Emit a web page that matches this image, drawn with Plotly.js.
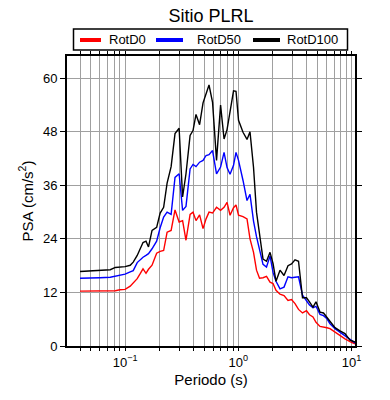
<!DOCTYPE html>
<html>
<head>
<meta charset="utf-8">
<script src="https://cdn.plot.ly/plotly-3.0.1.min.js"></script>
<style>html,body{margin:0;padding:0;background:#fff;}#chart{width:390px;height:400px;}</style>
</head>
<body>
<div id="chart"></div>
<script>
var periods = [0.040,0.049,0.060,0.074,0.082,0.090,0.100,0.111,0.118,0.128,0.136,0.144,0.153,0.161,0.173,0.190,0.204,0.219,0.235,0.255,0.276,0.300,0.322,0.345,0.375,0.398,0.423,0.455,0.488,0.519,0.551,0.592,0.642,0.697,0.748,0.795,0.845,0.907,0.954,1.004,1.100,1.193,1.268,1.362,1.447,1.539,1.652,1.774,1.905,2.025,2.151,2.333,2.532,2.746,2.949,3.166,3.400,3.687,4.000,4.250,4.564,4.850,5.262,5.649,6.066,6.447,7.137,7.902,8.744,9.681,10.72];

var rotD0 = [12.3,12.3,12.3,12.3,12.4,12.6,12.7,13.4,14.2,15.1,16.2,17.3,16.3,17.2,18.1,20.8,21.2,21.4,25.5,25.9,30.5,27.8,28.1,23.7,29.5,30.0,28.1,29.4,26.3,28.5,30.0,29.8,31.1,30.4,31.1,32.2,29.3,31.0,31.6,29.3,29.0,28.5,24.0,21.0,17.0,15.2,15.3,15.6,14.3,14.0,12.5,11.6,11.3,10.2,10.4,9.5,8.2,7.4,7.9,7.0,6.5,5.3,4.4,4.3,4.1,3.9,3.1,2.2,1.6,1.0,0.5];

var rotD50 = [15.2,15.2,15.3,15.4,15.6,15.8,16.1,16.6,16.9,18.7,19.4,19.9,20.3,20.7,21.8,23.5,26.5,28.9,30.0,29.5,37.8,38.6,30.4,31.3,39.7,40.7,40.2,41.2,41.6,42.7,42.9,43.8,38.6,40.1,43.4,40.0,38.5,40.5,43.4,41.6,37.1,32.6,34.0,28.0,24.5,21.4,18.3,17.7,20.2,16.5,14.5,12.8,13.2,15.5,15.3,15.4,15.5,11.4,10.0,9.2,8.6,8.9,7.1,6.8,6.1,5.0,3.9,3.1,2.2,1.3,0.7];

var rotD100 = [16.7,16.8,16.9,17.1,17.6,17.7,17.8,18.1,18.8,20.3,21.8,23.2,23.5,22.2,25.9,26.6,29.8,31.1,36.5,40.2,47.6,48.8,33.4,38.6,47.2,48.3,51.9,49.6,54.5,56.5,58.5,54.6,41.6,54.0,46.4,48.5,52.8,57.2,57.1,50.6,47.9,46.3,48.0,40.0,30.0,25.5,19.5,19.0,21.0,18.5,14.5,17.0,15.8,18.0,18.4,19.3,19.0,10.8,10.8,9.9,8.7,9.9,7.6,7.4,6.4,5.6,4.1,3.4,2.8,1.3,0.9];

var seriesNames = ['RotD0','RotD50','RotD100'];
var seriesColors = ['#ff0000','#0000ff','#000000'];
var seriesValues = [rotD0, rotD50, rotD100];

var xGridVals = [0.04,0.05,0.06,0.07,0.08,0.09,0.1,0.2,0.3,0.4,0.5,0.6,0.7,0.8,0.9,1,2,3,4,5,6,7,8,9,10];
var xTickLabels = {'0.1':'10<sup>−1</sup>','1':'10<sup>0</sup>','10':'10<sup>1</sup>'};
var xGridText = xGridVals.map(function(v){ return xTickLabels[String(v)] || ''; });
var yTickVals = [0,12,24,36,48,60];

var traces = [];
for (var i = 0; i < 3; i++) {
  traces.push({
    x: periods, y: seriesValues[i], type: 'scatter', mode: 'lines',
    line: {color: seriesColors[i], width: 1.4}, showlegend: false, name: seriesNames[i]
  });
}

// Legend drawn as shapes + annotations (paper coordinates)
var W = 288, H = 290, L = 67, T = 56;
function px(x){ return (x - L) / W; }
function py(y){ return (T + H - y) / H; }
var legendSwatchX = [[80, 101], [156, 183], [253, 280]];
var legendTextX = [107, 195, 285];
var shapes = [{
  type: 'rect', xref: 'paper', yref: 'paper',
  x0: px(73.5), x1: px(347.5), y0: py(50), y1: py(29),
  line: {color: '#000', width: 1.5}, fillcolor: '#fff', layer: 'above'
}];
var annotations = [];
for (var k = 0; k < 3; k++) {
  shapes.push({
    type: 'line', xref: 'paper', yref: 'paper',
    x0: px(legendSwatchX[k][0]), x1: px(legendSwatchX[k][1]), y0: py(40), y1: py(40),
    line: {color: seriesColors[k], width: 4}, layer: 'above'
  });
  annotations.push({
    xref: 'paper', yref: 'paper', x: px(legendTextX[k]), y: py(40),
    xanchor: 'left', yanchor: 'middle', showarrow: false,
    text: seriesNames[k], font: {size: 13, color: '#000'}
  });
}

var layout = {
  width: 390, height: 400,
  margin: {l: 67, r: 35, t: 56, b: 54},
  paper_bgcolor: '#fff', plot_bgcolor: '#fff',
  font: {family: 'Liberation Sans, Arial, sans-serif', color: '#000', size: 13},
  title: {text: 'Sitio PLRL', font: {size: 18, color: '#000'}, x: 0.541, xanchor: 'center', y: 0.962, yanchor: 'middle'},
  showlegend: false,
  shapes: shapes,
  annotations: annotations,
  xaxis: {
    type: 'log', range: [Math.log10(0.0307), Math.log10(10.72)],
    tickmode: 'array', tickvals: xGridVals, ticktext: xGridText,
    ticks: 'outside', ticklen: 3, tickcolor: '#000', tickwidth: 1,
    showgrid: true, gridcolor: '#a0a0a0', gridwidth: 1,
    showline: true, linecolor: '#000', linewidth: 2, mirror: 'ticks',
    zeroline: false, tickfont: {size: 13},
    title: {text: 'Periodo (s)', font: {size: 15}, standoff: 6}
  },
  yaxis: {
    range: [0, 65], tickmode: 'array', tickvals: yTickVals,
    ticks: 'outside', ticklen: 5, tickcolor: '#000', tickwidth: 1,
    showgrid: true, gridcolor: '#a0a0a0', gridwidth: 1,
    showline: true, linecolor: '#000', linewidth: 2, mirror: 'ticks',
    zeroline: false, tickfont: {size: 13},
    title: {text: 'PSA (cm/s<sup>2</sup>)', font: {size: 15}, standoff: 6}
  }
};

Plotly.newPlot('chart', traces, layout, {displayModeBar: false, staticPlot: true});
</script>
</body>
</html>
